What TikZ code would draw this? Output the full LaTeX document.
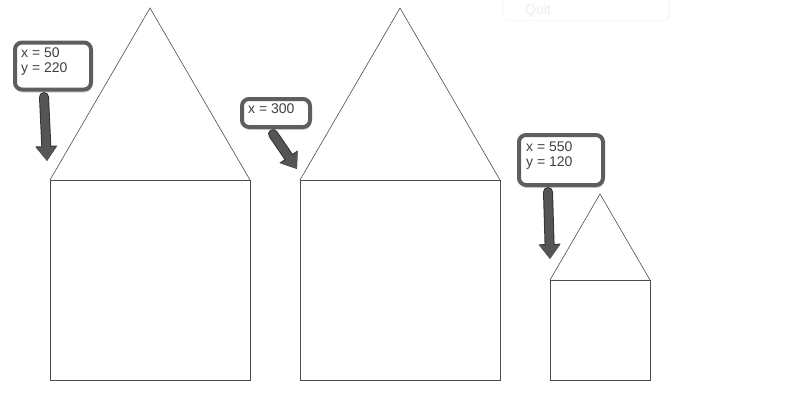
\documentclass[tikz,border=0pt]{standalone}
\usepackage{fontspec}
\setmainfont{Liberation Sans}
\usetikzlibrary{arrows.meta,shadows}
\definecolor{calloutgray}{HTML}{5E5E5E}
\definecolor{arrowgray}{HTML}{555555}
\begin{document}
\begin{tikzpicture}[x=1pt,y=-1pt,
  house/.style={draw=black!70, line width=0.6pt},
  callout/.style={draw=calloutgray, line width=4pt, rounded corners=7pt, fill=white,
    drop shadow={opacity=0.35, shadow xshift=1pt, shadow yshift=-3pt},
    inner sep=0pt, anchor=north west},
  label/.style={font=\fontsize{14}{17}\selectfont, text=black!75, anchor=base west, inner sep=0pt},
  fatarrow/.style={line width=8pt, draw=arrowgray, line cap=round,
    -{Triangle[length=14pt, width=20pt]}},
  arrowedge/.style={draw=black!80, line width=10pt, line cap=round,
    -{Triangle[length=15pt, width=21pt]}}]
\useasboundingbox (0,0) rectangle (800,400);
% Quit button (faint)
\node[draw=black!4, fill=white, rounded corners=4pt, minimum width=165pt, minimum height=22pt,
  anchor=north west, drop shadow={opacity=0.04, shadow yshift=-1pt}] (quit) at (503,-2) {};
\node[label, text=black!7] (quittext) at (525,14) {Quit};
% houses
\draw[house] (50,180) rectangle (250,380);
\draw[house] (50,180) -- (150,8) -- (250,180);
\draw[house] (300,180) rectangle (500,380);
\draw[house] (300,180) -- (400,8) -- (500,180);
\draw[house] (550,280) rectangle (650,380);
\draw[house] (550,280) -- (600,194) -- (650,280);
% corner coordinates
\coordinate (c1) at (47,161);
\coordinate (c2) at (297,169);
\coordinate (c3) at (550,259);
% callouts
\node[callout, minimum width=76pt, minimum height=47pt] (b1) at (13,40.5) {};
\node[label] (t1a) at (21,57) {x = 50};
\node[label] (t1b) at (21,72) {y = 220};
\node[callout, minimum width=68pt, minimum height=28pt] (b2) at (240,97) {};
\node[label] (t2) at (248,113) {x = 300};
\node[callout, minimum width=84pt, minimum height=50pt] (b3) at (517,133) {};
\node[label] (t3a) at (526,151) {x = 550};
\node[label] (t3b) at (526,166) {y = 120};
% arrows
\coordinate (s1) at (44,97);
\coordinate (s2) at (273,134);
\coordinate (s3) at (548,192);
\draw[arrowedge] (s1) -- (c1);
\draw[fatarrow] (s1) -- (c1);
\draw[arrowedge] (s2) -- (c2);
\draw[fatarrow] (s2) -- (c2);
\draw[arrowedge] (s3) -- (c3);
\draw[fatarrow] (s3) -- (c3);
\end{tikzpicture}
\end{document}
